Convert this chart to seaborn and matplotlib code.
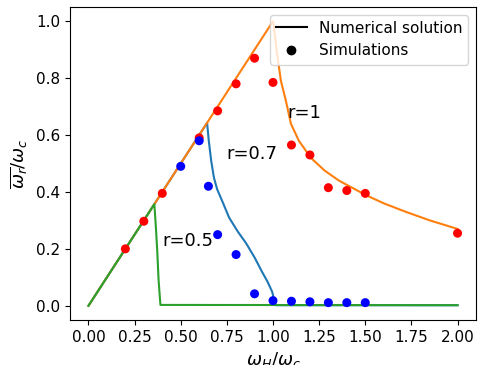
import matplotlib
matplotlib.use("Agg")
import matplotlib.pyplot as plt
import seaborn as sns
import pandas as pd
from matplotlib.lines import Line2D

# Numerical solution curves
r07_x = [0.0, 0.643, 0.652, 0.665, 0.68, 0.697, 0.73, 0.762, 0.81, 0.854, 0.9, 0.94, 0.97, 0.995, 1.005, 1.015, 2.0]
r07_y = [0.0, 0.643, 0.58, 0.51, 0.45, 0.41, 0.36, 0.31, 0.26, 0.22, 0.17, 0.12, 0.085, 0.05, 0.025, 0.002, 0.002]

r1_x = [0.0, 1.0, 1.01, 1.02, 1.043, 1.07, 1.097, 1.14, 1.205, 1.28, 1.357, 1.5, 1.6, 1.72, 1.85, 2.0]
r1_y = [0.0, 1.0, 0.95, 0.895, 0.79, 0.72, 0.64, 0.58, 0.52, 0.475, 0.44, 0.39, 0.36, 0.33, 0.30, 0.27]

r05_x = [0.0, 0.357, 0.365, 0.373, 0.38, 0.39, 2.0]
r05_y = [0.0, 0.357, 0.28, 0.19, 0.09, 0.003, 0.002]

# Simulations
sim1_x = [0.2, 0.3, 0.4, 0.6, 0.7, 0.8, 0.9, 1.0, 1.1, 1.2, 1.3, 1.4, 1.5, 2.0]
sim1_y = [0.2, 0.297, 0.395, 0.59, 0.685, 0.78, 0.87, 0.785, 0.565, 0.53, 0.415, 0.405, 0.395, 0.255]

sim07_x = [0.5, 0.6, 0.65, 0.7, 0.8, 0.9, 1.0, 1.1, 1.2, 1.3, 1.4, 1.5]
sim07_y = [0.49, 0.58, 0.42, 0.25, 0.18, 0.042, 0.018, 0.016, 0.014, 0.011, 0.011, 0.011]

fig = plt.figure(figsize=(4.78, 3.65), dpi=100)
ax = fig.add_axes([70 / 478, 45 / 365, 406 / 478, 313 / 365])

for xs, ys, c in [(r07_x, r07_y, "#1f77b4"), (r1_x, r1_y, "#ff7f0e"), (r05_x, r05_y, "#2ca02c")]:
    df = pd.DataFrame({"x": xs, "y": ys})
    sns.lineplot(data=df, x="x", y="y", sort=False, estimator=None, color=c, lw=1.5, ax=ax)

sns.scatterplot(x=sim1_x, y=sim1_y, color="red", s=42, edgecolor="none", ax=ax, zorder=3)
sns.scatterplot(x=sim07_x, y=sim07_y, color="blue", s=42, edgecolor="none", ax=ax, zorder=3)

ax.text(1.08, 0.66, "r=1", fontsize=13)
ax.text(0.75, 0.515, "r=0.7", fontsize=13)
ax.text(0.4, 0.21, "r=0.5", fontsize=13)

ax.set_xlim(-0.1, 2.1)
ax.set_ylim(-0.05, 1.05)
ax.set_xticks([0.0, 0.25, 0.5, 0.75, 1.0, 1.25, 1.5, 1.75, 2.0])
ax.set_xticklabels(["0.00", "0.25", "0.50", "0.75", "1.00", "1.25", "1.50", "1.75", "2.00"])
ax.set_yticks([0.0, 0.2, 0.4, 0.6, 0.8, 1.0])
ax.tick_params(labelsize=11)
ax.set_xlabel(r"$\omega_H/\omega_c$", fontsize=13)
ax.set_ylabel(r"$\overline{\omega_r}/\omega_c$", fontsize=13)

handles = [Line2D([0], [0], color="black", lw=1.5),
           Line2D([0], [0], color="black", marker="o", ls="none", markersize=6)]
ax.legend(handles, ["Numerical solution", "Simulations"], loc="upper right", fontsize=11)

fig.savefig("out.png", dpi=100)
